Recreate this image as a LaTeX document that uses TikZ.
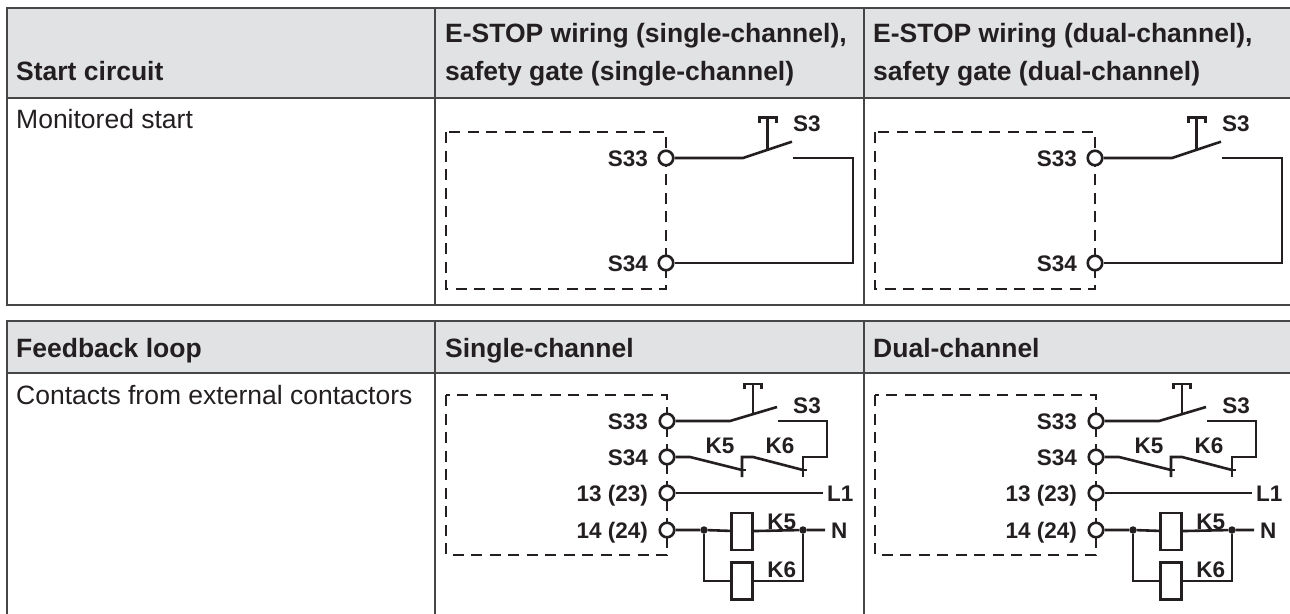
\documentclass[tikz,border=0pt]{standalone}
\usepackage{fontspec}
\setmainfont{Liberation Sans}
\definecolor{headgray}{RGB}{225,226,228}
\definecolor{rulegray}{RGB}{70,70,70}
\definecolor{ink}{RGB}{35,31,32}

\begin{document}
\begin{tikzpicture}[x=1pt,y=-1pt]
    \tikzstyle{every path}=[line join=miter];
    \tikzstyle{grid}=[draw=rulegray,line width=1.8pt];
    \tikzstyle{cell}=[anchor=base west,inner sep=0pt,text=ink,font=\fontsize{26.5}{38}\selectfont];
    \tikzstyle{head}=[cell,align=left,font=\fontsize{26.5}{38}\selectfont\bfseries];
    \tikzstyle{wire}=[draw=ink,line width=2.6pt];
    \tikzstyle{frame}=[draw=ink,line width=2.4pt,dash pattern=on 11pt off 7.5pt];
    \tikzstyle{lbl}=[inner sep=0pt,text=ink,font=\fontsize{22.5}{24}\selectfont\bfseries];
    \tikzstyle{term}=[draw=ink,fill=white,circle,line width=2.6pt,minimum size=14.5pt,inner sep=0pt];
    \tikzstyle{coil}=[draw=ink,fill=white,line width=2.6pt,minimum width=21pt,minimum height=37pt,inner sep=0pt];
    \tikzstyle{dot}=[fill=ink,circle,minimum size=7.5pt,inner sep=0pt];
    \useasboundingbox (0,0) rectangle (1290,613);

    % tables
    \fill[headgray] (7,8) rectangle (1300,98);
    \fill[headgray] (7,321) rectangle (1300,373);
    \draw[grid] (1300,8) -- (7,8) -- (7,305) -- (1300,305);
    \draw[grid] (7,98) -- (1300,98);
    \draw[grid] (435,8) -- (435,305);
    \draw[grid] (864,8) -- (864,305);
    \draw[grid] (1300,321) -- (7,321) -- (7,630);
    \draw[grid] (7,373) -- (1300,373);
    \draw[grid] (435,321) -- (435,630);
    \draw[grid] (864,321) -- (864,630);

    \node[head] (hstart) at (16,80) {Start circuit};
    \node[head] (hsingle) at (445,80) {E-STOP wiring (single-channel),\\safety gate (single-channel)};
    \node[head] (hdual) at (873,80) {E-STOP wiring (dual-channel),\\safety gate (dual-channel)};
    \node[cell] (rmon) at (16,128) {Monitored start};
    \node[head] (hfeed) at (16,357) {Feedback loop};
    \node[head] (hsch) at (445,357) {Single-channel};
    \node[head] (hdch) at (873,357) {Dual-channel};
    \node[cell] (rcont) at (16,404) {Contacts from external contactors};

    % monitored start
    \foreach \dx/\p in {0/a-,429/b-} {
    \begin{scope}[shift={(\dx,0)},name prefix=\p]
    \draw[frame] (446,132) rectangle (666,289);
    \node[term] (s33) at (666,158) {};
    \node[term] (s34) at (666,263) {};
    \node[lbl,anchor=base east] at (648,166) {S33};
    \node[lbl,anchor=base east] at (648,271) {S34};
    \coordinate (sw) at (743,158);
    \coordinate (bl) at (792,141.7);
    \coordinate (fx) at (793,158);
    \draw[wire] (s33) -- (sw) -- (bl);
    \draw[wire] (767.7,149.8) -- (767.7,117.3);
    \draw[wire] (759.2,123) -- (759.2,117.3) -- (776.2,117.3) -- (776.2,123);
    \draw[wire] (fx) -- (853,158) -- (853,263) -- (s34);
    \node[lbl,anchor=base west] (s3) at (793,131) {S3};
    \end{scope}
    }

    % feedback loop
    \foreach \dx/\p in {0/c-,429/d-} {
    \begin{scope}[shift={(\dx,0)},name prefix=\p]
    \draw[frame] (446,395) rectangle (667,555);
    \node[term] (s33) at (667,421) {};
    \node[term] (s34) at (667,457) {};
    \node[term] (t13) at (667,493) {};
    \node[term] (t14) at (667,530) {};
    \node[lbl,anchor=base east] at (648,429) {S33};
    \node[lbl,anchor=base east] at (648,465) {S34};
    \node[lbl,anchor=base east] at (648,501) {13 (23)};
    \node[lbl,anchor=base east] at (648,538) {14 (24)};
    % S3
    \draw[wire] (s33) -- (730,421) -- (777,407);
    \draw[wire] (753,414.1) -- (753,384);
    \draw[wire] (744.5,389) -- (744.5,384) -- (761.5,384) -- (761.5,389);
    \draw[wire] (778,421) -- (827,421) -- (827,457) -- (803,457) -- (803,477);
    \node[lbl,anchor=base] (s3) at (807,413) {S3};
    % K5, K6 contacts
    \draw[wire] (s34) -- (690,457) -- (742,470);
    \draw[wire] (742,477) -- (742,457) -- (753,457) -- (803,470);
    \draw[wire] (742,470) -- (746,470);
    \draw[wire] (803,470) -- (807,470);
    \node[lbl,anchor=base] (k5c) at (720,453) {K5};
    \node[lbl,anchor=base] (k6c) at (780,453) {K6};
    % L1
    \draw[wire] (t13) -- (823,493);
    \node[lbl,anchor=base west] (l1) at (827,501) {L1};
    % coils
    \node[dot] (j1) at (704,530) {};
    \node[dot] (j2) at (803,530) {};
    \node[coil] (k5) at (742.2,531.3) {};
    \node[coil] (k6) at (742.2,580.8) {};
    \draw[wire] (t14) -- (j1) -- (k5) -- (j2) -- (825,530);
    \draw[wire] (j1) -- (704,580.8) -- (k6) -- (803,580.8) -- (j2);
    \node[lbl,anchor=base west] (n) at (831,538) {N};
    \node[lbl,anchor=base] at (781.7,529) {K5};
    \node[lbl,anchor=base] at (781.7,577) {K6};
    \end{scope}
    }
\end{tikzpicture}
\end{document}
